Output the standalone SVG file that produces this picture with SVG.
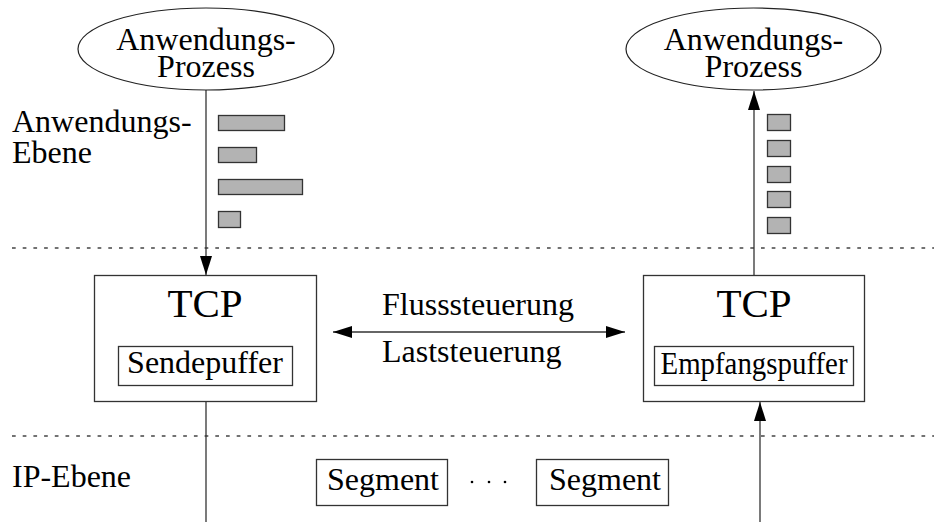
<svg xmlns="http://www.w3.org/2000/svg" width="935" height="523" viewBox="0 0 935 523">
  <style>
    text { font-family: "Liberation Serif", "Times New Roman", serif; fill: #000; }
    .t32 { font-size: 32px; }
    .t41 { font-size: 41px; }
    .mid { text-anchor: middle; }
    .box { fill: #fff; stroke: #333; stroke-width: 1.3; }
    .proc { fill: #fff; stroke: #222; stroke-width: 1.2; }
    .pkt { fill: #b3b3b3; stroke: #333; stroke-width: 1.3; }
    .layer { stroke: #444; stroke-width: 1.3; stroke-dasharray: 3.7 7; fill: none; }
    .wire { stroke: #333; stroke-width: 1.3; fill: none; }
  </style>
  <defs>
    <marker id="head" markerUnits="userSpaceOnUse" markerWidth="20" markerHeight="12" refX="19" refY="6" orient="auto-start-reverse">
      <path d="M0,0 L19,6 L0,12 Z" fill="#000"/>
    </marker>
  </defs>

  <rect width="935" height="523" fill="#fff"/>

  <!-- layer separators -->
  <g id="layers">
    <line class="layer" x1="12" y1="248" x2="934" y2="248"/>
    <line class="layer" x1="12" y1="436" x2="934" y2="436"/>
    <text class="t32" x="12" y="132">Anwendungs-</text>
    <text class="t32" x="12" y="163">Ebene</text>
    <text class="t32" x="12" y="487">IP-Ebene</text>
  </g>

  <!-- connectors -->
  <g id="connectors">
    <line class="wire" x1="206" y1="90" x2="206" y2="275" marker-end="url(#head)"/>
    <line class="wire" x1="754" y1="275" x2="754" y2="91" marker-end="url(#head)"/>
    <line class="wire" x1="206" y1="402" x2="206" y2="522"/>
    <line class="wire" x1="760" y1="522" x2="760" y2="402" marker-end="url(#head)"/>
    <line class="wire" x1="333" y1="332" x2="625" y2="332" marker-start="url(#head)" marker-end="url(#head)"/>
    <text class="t32" x="382" y="315">Flusssteuerung</text>
    <text class="t32" x="382" y="362">Laststeuerung</text>
  </g>

  <!-- sending application -->
  <g id="proc-left">
    <ellipse class="proc" cx="206" cy="49" rx="128" ry="41"/>
    <text class="t32 mid" x="206" y="50">Anwendungs-</text>
    <text class="t32 mid" x="206" y="77">Prozess</text>
  </g>

  <!-- receiving application -->
  <g id="proc-right">
    <ellipse class="proc" cx="753.5" cy="49" rx="127.5" ry="41"/>
    <text class="t32 mid" x="753.5" y="50">Anwendungs-</text>
    <text class="t32 mid" x="753.5" y="77">Prozess</text>
  </g>

  <!-- data written by the application, variable sizes -->
  <g id="writes-left">
    <rect class="pkt" x="218.5" y="115.5" width="66" height="15"/>
    <rect class="pkt" x="218.5" y="147.5" width="38" height="15"/>
    <rect class="pkt" x="218.5" y="179.5" width="84" height="15"/>
    <rect class="pkt" x="218.5" y="211.5" width="22" height="16"/>
  </g>

  <!-- data read by the application, equal chunks -->
  <g id="reads-right">
    <rect class="pkt" x="767.5" y="114.5" width="23" height="16"/>
    <rect class="pkt" x="767.5" y="140.5" width="23" height="16"/>
    <rect class="pkt" x="767.5" y="166.5" width="23" height="16"/>
    <rect class="pkt" x="767.5" y="191.5" width="23" height="16"/>
    <rect class="pkt" x="767.5" y="217.5" width="23" height="16"/>
  </g>

  <!-- sending TCP -->
  <g id="tcp-left">
    <rect class="box" x="94.5" y="275.5" width="222" height="126"/>
    <text class="t41 mid" x="205" y="317">TCP</text>
    <rect class="box" x="118.5" y="346.5" width="174" height="39"/>
    <text class="t32 mid" x="205" y="373">Sendepuffer</text>
  </g>

  <!-- receiving TCP -->
  <g id="tcp-right">
    <rect class="box" x="643.5" y="275.5" width="221" height="126"/>
    <text class="t41 mid" x="754" y="317">TCP</text>
    <rect class="box" x="654.5" y="346.5" width="199" height="39"/>
    <text class="t32 mid" x="754" y="374" textLength="187" lengthAdjust="spacingAndGlyphs">Empfangspuffer</text>
  </g>

  <!-- segments on the IP layer -->
  <g id="segment-1">
    <rect class="box" x="316.5" y="459.5" width="131" height="46"/>
    <text class="t32 mid" x="383" y="490">Segment</text>
  </g>
  <g id="gap">
    <circle cx="472" cy="482" r="1.3" fill="#000"/>
    <circle cx="489" cy="482" r="1.3" fill="#000"/>
    <circle cx="505" cy="482" r="1.3" fill="#000"/>
  </g>
  <g id="segment-2">
    <rect class="box" x="536.5" y="459.5" width="132" height="46"/>
    <text class="t32 mid" x="605" y="490">Segment</text>
  </g>
</svg>
